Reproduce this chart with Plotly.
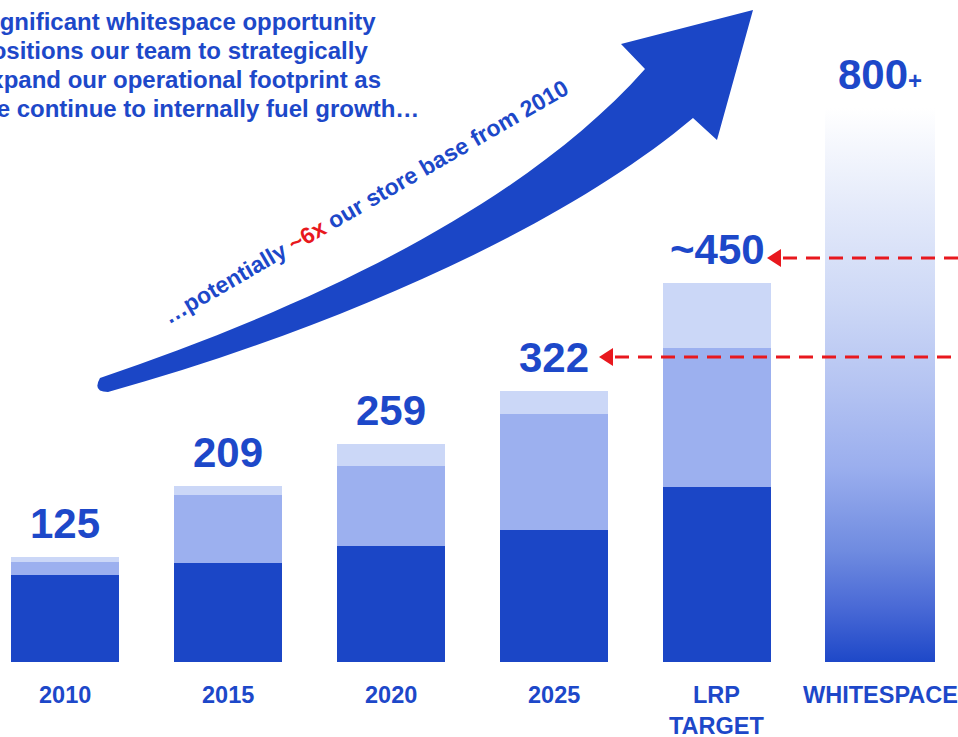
import plotly.graph_objects as go

# ---------------- data ----------------
categories = ["2010", "2015", "2020", "2025", "LRP<br>TARGET", "WHITESPACE"]
value_labels = ["125", "209", "259", "322", "~450", "800<span style='font-size:24px'>+</span>"]
dark_segment = [103, 118, 138, 156, 208]
medium_segment = [16, 80, 94, 138, 164]
light_segment = [6, 11, 27, 28, 78]
whitespace_value = 800
headline_lines = ["Significant whitespace opportunity",
                  "positions our team to strategically",
                  "expand our operational footprint as",
                  "we continue to internally fuel growth…"]

# ---------------- styling ----------------
W, H = 958, 737
BLUE = "#1B46C6"
MED = "#9CB0EF"
LIGHT = "#CBD7F7"
TEXT_BLUE = "#1D48C9"
RED = "#E8181E"
SANS = "Liberation Sans, Arial, sans-serif"

k1 = 0.843   # px per unit, main axis
k2 = 0.6925  # px per unit, whitespace axis
base_px = 75  # baseline distance from bottom
xpx = 163.0
x0 = -65 / xpx

def P(px, py):
    return px / W, 1 - py / H

def path(cmds, close=True):
    s = ""
    for cmd, pts in cmds:
        if cmd in ("M", "L"):
            for a, b in pts:
                x, y = P(a, b)
                s += f"{cmd} {x:.5f},{y:.5f} "
        else:
            s += cmd + " " + " ".join(f"{P(a, b)[0]:.5f},{P(a, b)[1]:.5f}" for a, b in pts) + " "
    if close:
        s += "Z"
    return s

fig = go.Figure()
xs = list(range(len(dark_segment)))
for vals, col in [(dark_segment, BLUE), (medium_segment, MED), (light_segment, LIGHT)]:
    fig.add_trace(go.Bar(x=xs, y=vals, marker=dict(color=col, line=dict(width=0)),
                         width=0.663, hoverinfo="skip", showlegend=False))

# whitespace gradient bar
wi = len(categories) - 1
hw = 110 / xpx / 2
fig.add_trace(go.Scatter(
    x=[wi - hw, wi - hw, wi + hw, wi + hw, wi - hw],
    y=[0, whitespace_value, whitespace_value, 0, 0],
    yaxis="y2", mode="lines", line=dict(width=0), fill="toself",
    fillgradient=dict(type="vertical", colorscale=[
        [0, "#1E48C8"], [0.1, "#4A6AD6"], [0.2, "#6F8BE0"], [0.35, "#9AAEEE"],
        [0.5, "#B5C4F2"], [0.65, "#CDD8F6"], [0.82, "#E4EAFA"], [1, "#FFFFFF"]]),
    hoverinfo="skip", showlegend=False))

totals = [d + m + l for d, m, l in zip(dark_segment, medium_segment, light_segment)]
annotations = []
for i, t in enumerate(totals):
    annotations.append(dict(x=i, y=t, xref="x", yref="y", text=f"<b>{value_labels[i]}</b>",
                            showarrow=False, yanchor="bottom", yshift=8,
                            font=dict(family=SANS, size=42, color=TEXT_BLUE)))
annotations.append(dict(x=wi, y=whitespace_value, xref="x", yref="y2",
                        text=f"<b>{value_labels[wi]}</b>", showarrow=False,
                        yanchor="bottom", yshift=8,
                        font=dict(family=SANS, size=42, color=TEXT_BLUE)))
for i, c in enumerate(categories):
    annotations.append(dict(x=i, y=0, xref="x", yref="y", text=f"<b>{c}</b>",
                            showarrow=False, yanchor="top", yshift=-18,
                            font=dict(family=SANS, size=23.5, color=TEXT_BLUE)))

# headline text (cropped at left edge in the original)
for j, line in enumerate(headline_lines):
    annotations.append(dict(
        x=-25 / W, y=1 - (22 + 28.7 * j) / H, xref="paper", yref="paper",
        xanchor="left", yanchor="middle", align="left", showarrow=False,
        text=f"<b>{line}</b>", font=dict(family=SANS, size=24, color=TEXT_BLUE)))

# rotated arrow text
annotations.append(dict(
    x=365 / W, y=1 - 202 / H, xref="paper", yref="paper", showarrow=False, textangle=-30,
    xanchor="center", yanchor="middle",
    text="<b>…potentially <span style='color:%s'>~6x</span> our store base from 2010</b>" % RED,
    font=dict(family=SANS, size=23, color=TEXT_BLUE)))

shapes = []
# big arrow
arrow = path([
    ("M", [(100, 378)]),
    ("C", [(300, 310), (520, 210), (645, 69)]),
    ("L", [(621, 44), (753, 10), (717, 140), (693, 118)]),
    ("C", [(560, 230), (330, 330), (108, 392)]),
    ("Q", [(92, 392), (100, 378)]),
])
shapes.append(dict(type="path", path=arrow, xref="paper", yref="paper",
                   fillcolor=BLUE, line=dict(width=0), layer="above"))

# red dashed arrows
for tip_x, yy in [(767, 258), (599, 357)]:
    shapes.append(dict(type="line", xref="paper", yref="paper",
                       x0=(tip_x + 16) / W, x1=1.0, y0=1 - yy / H, y1=1 - yy / H,
                       line=dict(color=RED, width=3, dash="14px,9px"), layer="above"))
    tri = path([("M", [(tip_x, yy)]), ("L", [(tip_x + 14, yy - 9), (tip_x + 14, yy + 9)])])
    shapes.append(dict(type="path", path=tri, xref="paper", yref="paper",
                       fillcolor=RED, line=dict(width=0), layer="above"))

fig.update_layout(
    width=W, height=H, margin=dict(l=0, r=0, t=0, b=0),
    paper_bgcolor="white", plot_bgcolor="white",
    barmode="stack", bargap=0,
    xaxis=dict(range=[x0, x0 + W / xpx], visible=False, fixedrange=True),
    yaxis=dict(range=[-base_px / k1, (H - base_px) / k1], visible=False, fixedrange=True),
    yaxis2=dict(range=[-base_px / k2, (H - base_px) / k2], visible=False,
                overlaying="y", fixedrange=True),
    annotations=annotations, shapes=shapes, showlegend=False,
)
fig.write_html("out.html")
